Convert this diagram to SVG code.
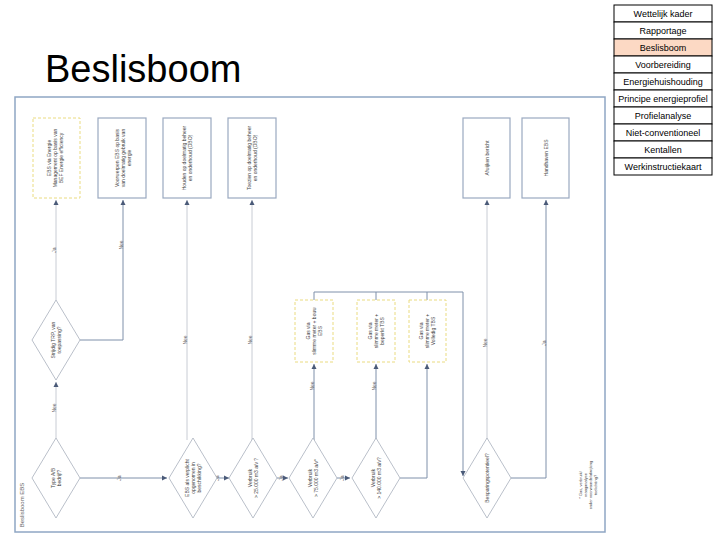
<svg xmlns="http://www.w3.org/2000/svg" width="720" height="540" viewBox="0 0 720 540">
<style>
.m{fill:#fff;stroke:#000;stroke-width:1}
.mt{font-family:"Liberation Sans",Arial,sans-serif;font-size:9px;fill:#000;text-anchor:middle}
.b{fill:#fff;stroke:#9aa9c0;stroke-width:1.2}
.y{fill:#fff;stroke:#eadb80;stroke-width:1;stroke-dasharray:3,2}
.d{fill:#fff;stroke:#a8b0bc;stroke-width:0.8}
.t{font-family:"Liberation Sans",Arial,sans-serif;font-size:5px;fill:#444;text-anchor:middle}
.l{font-family:"Liberation Sans",Arial,sans-serif;font-size:5px;fill:#666;text-anchor:middle}
.c{fill:none;stroke:#7f90aa;stroke-width:1}
.c2{fill:none;stroke:#c8ccd4;stroke-width:1}
</style>
<defs><marker id="a" markerWidth="6" markerHeight="6" refX="5" refY="3" orient="auto" markerUnits="userSpaceOnUse"><path d="M0,0.5 L5,3 L0,5.5Z" fill="#4a5a78"/></marker></defs>
<rect width="720" height="540" fill="#fff"/>
<text x="45" y="82" font-family="Liberation Sans,Arial,sans-serif" font-size="38" fill="#000">Beslisboom</text>
<g id="menu">
<rect class="m" x="614" y="5" width="98" height="17"/><text class="mt" x="663" y="17">Wettelijk kader</text>
<rect class="m" x="614" y="22" width="98" height="17"/><text class="mt" x="663" y="34">Rapportage</text>
<rect class="m" x="614" y="39" width="98" height="17" style="fill:#fcd9c4"/><text class="mt" x="663" y="51">Beslisboom</text>
<rect class="m" x="614" y="56" width="98" height="17"/><text class="mt" x="663" y="68">Voorbereiding</text>
<rect class="m" x="614" y="73" width="98" height="17"/><text class="mt" x="663" y="85">Energiehuishouding</text>
<rect class="m" x="614" y="90" width="98" height="17"/><text class="mt" x="663" y="102">Principe energieprofiel</text>
<rect class="m" x="614" y="107" width="98" height="17"/><text class="mt" x="663" y="119">Profielanalyse</text>
<rect class="m" x="614" y="124" width="98" height="17"/><text class="mt" x="663" y="136">Niet-conventioneel</text>
<rect class="m" x="614" y="141" width="98" height="17"/><text class="mt" x="663" y="153">Kentallen</text>
<rect class="m" x="614" y="158" width="98" height="17"/><text class="mt" x="663" y="170">Werkinstructiekaart</text>
</g>
<rect x="15" y="97" width="590" height="435" fill="none" stroke="#8fa6c4" stroke-width="1.5"/>
<text class="l" transform="translate(24,505) rotate(-90)" style="font-size:6px">Beslisboom EBS</text>
<g id="connectors">
<path class="c2" d="M56,438 V382" marker-end="url(#a)"/><text class="l" transform="translate(56,408) rotate(-90)">Nee</text>
<path class="c2" d="M56,300 V200" marker-end="url(#a)"/><text class="l" transform="translate(56,250) rotate(-90)">Ja</text>
<path class="c" d="M80,340 H123 V200" marker-end="url(#a)"/><text class="l" transform="translate(123,245) rotate(-90)">Nee</text>
<path class="c" d="M80,478 H167" marker-end="url(#a)"/><text class="l" transform="translate(121,478) rotate(-90)">Ja</text>
<path class="c2" d="M187,440 V200" marker-end="url(#a)"/><text class="l" transform="translate(187,340) rotate(-90)">Nee</text>
<path class="c" d="M211,478 H229" marker-end="url(#a)"/><text class="l" transform="translate(219,478) rotate(-90)">Ja</text>
<path class="c2" d="M252,440 V200" marker-end="url(#a)"/><text class="l" transform="translate(252,340) rotate(-90)">Nee</text>
<path class="c" d="M277,478 H288" marker-end="url(#a)"/><text class="l" transform="translate(283,478) rotate(-90)">Ja</text>
<path class="c" d="M314,440 V364" marker-end="url(#a)"/><text class="l" transform="translate(314,386) rotate(-90)">Nee</text>
<path class="c" d="M337,478 H350" marker-end="url(#a)"/><text class="l" transform="translate(344,478) rotate(-90)">Ja</text>
<path class="c" d="M376,440 V364" marker-end="url(#a)"/><text class="l" transform="translate(376,386) rotate(-90)">Nee</text>
<path class="c" d="M400,478 H427 V364" marker-end="url(#a)"/>
<path class="c" d="M314,300 V292 H463 V476" marker-end="url(#a)"/>
<path class="c" d="M376,300 V292 M427,300 V292"/>
<path class="c2" d="M487,440 V200" marker-end="url(#a)"/><text class="l" transform="translate(487,343) rotate(-90)">Nee</text>
<path class="c" d="M511,478 H546 V200" marker-end="url(#a)"/><text class="l" transform="translate(546,343) rotate(-90)">Ja</text>
</g>
<g id="n1"><rect class="y" x="33" y="118" width="47" height="80"/><text class="t" transform="translate(56,158) rotate(-90)"><tspan x="0" y="-5">EBS via Energie</tspan><tspan x="0" y="1">Management op basis van</tspan><tspan x="0" y="7">BEF Energie efficiency</tspan></text></g>
<g id="n2"><rect class="b" x="98" y="118" width="48" height="80"/><text class="t" transform="translate(122,158) rotate(-90)"><tspan x="0" y="-3">Voorwerpen EBS op basis</tspan><tspan x="0" y="3">van doelmatig gebruik van</tspan><tspan x="0" y="9">energie</tspan></text></g>
<g id="n3"><rect class="b" x="163" y="118" width="48" height="80"/><text class="t" transform="translate(187,158) rotate(-90)"><tspan x="0" y="-1">Houden op doelmatig beheer</tspan><tspan x="0" y="5">en onderhoud (DBO)</tspan></text></g>
<g id="n4"><rect class="b" x="228" y="118" width="48" height="80"/><text class="t" transform="translate(252,158) rotate(-90)"><tspan x="0" y="-1">Toezien op doelmatig beheer</tspan><tspan x="0" y="5">en onderhoud (DBO)</tspan></text></g>
<g id="n5"><rect class="b" x="463" y="118" width="47" height="80"/><text class="t" transform="translate(487,158) rotate(-90)"><tspan x="0" y="2">Afwijken bericht</tspan></text></g>
<g id="n6"><rect class="b" x="522" y="118" width="47" height="80"/><text class="t" transform="translate(546,158) rotate(-90)"><tspan x="0" y="2">Handhaven EBS</tspan></text></g>
<g id="n7"><rect class="y" x="295" y="300" width="38" height="62"/><text class="t" transform="translate(314,331) rotate(-90)"><tspan x="0" y="-4">Gas via</tspan><tspan x="0" y="2">slimme meter + bouw</tspan><tspan x="0" y="8">EBS</tspan></text></g>
<g id="n8"><rect class="y" x="357" y="300" width="38" height="62"/><text class="t" transform="translate(376,331) rotate(-90)"><tspan x="0" y="-4">Gas via</tspan><tspan x="0" y="2">slimme meter +</tspan><tspan x="0" y="8">beperkt TBS</tspan></text></g>
<g id="n9"><rect class="y" x="409" y="300" width="37" height="62"/><text class="t" transform="translate(427,331) rotate(-90)"><tspan x="0" y="-4">Gas via</tspan><tspan x="0" y="2">slimme meter +</tspan><tspan x="0" y="8">Volledig TBS</tspan></text></g>
<g id="q0"><path class="d" d="M56,300 L80,340 L56,380 L32,340Z"/><text class="t" transform="translate(56,340) rotate(-90)"><tspan x="0" y="-1">Strijdig TRP, van</tspan><tspan x="0" y="5">toepassing?</tspan></text></g>
<g id="q1"><path class="d" d="M56,438 L80,478 L56,518 L32,478Z"/><text class="t" transform="translate(56,478) rotate(-90)"><tspan x="0" y="-1">Type A/B</tspan><tspan x="0" y="5">bedrijf?</tspan></text></g>
<g id="q2"><path class="d" d="M193,438 L217,478 L193,518 L169,478Z"/><text class="t" transform="translate(193,478) rotate(-90)"><tspan x="0" y="-4">EBS als verplicht</tspan><tspan x="0" y="2">opgenomen in</tspan><tspan x="0" y="8">beschikking?</tspan></text></g>
<g id="q3"><path class="d" d="M253,438 L277,478 L253,518 L229,478Z"/><text class="t" transform="translate(253,478) rotate(-90)"><tspan x="0" y="-1">Verbruik</tspan><tspan x="0" y="5">&gt; 25.000 m3 a/v ?</tspan></text></g>
<g id="q4"><path class="d" d="M313,438 L337,478 L313,518 L289,478Z"/><text class="t" transform="translate(313,478) rotate(-90)"><tspan x="0" y="-1">Verbruik</tspan><tspan x="0" y="5">&gt; 75.000 m3 a/v*</tspan></text></g>
<g id="q5"><path class="d" d="M376,438 L400,478 L376,518 L352,478Z"/><text class="t" transform="translate(376,478) rotate(-90)"><tspan x="0" y="-1">Verbruik</tspan><tspan x="0" y="5">&gt; 140.000 m3 a/v?</tspan></text></g>
<g id="q6"><path class="d" d="M487,438 L511,478 L487,518 L463,478Z"/><text class="t" transform="translate(487,478) rotate(-90)"><tspan x="0" y="2">Besparingspotentieel?</tspan></text></g>
<text class="t" transform="translate(588,485) rotate(-90)" style="font-size:4px"><tspan x="0" y="-6">* Gas, verbruik/</tspan><tspan x="0" y="-1">vraaganalyse</tspan><tspan x="0" y="4">onder voorwaarde/afwijking</tspan><tspan x="0" y="9">toelichting?</tspan></text>
</svg>
